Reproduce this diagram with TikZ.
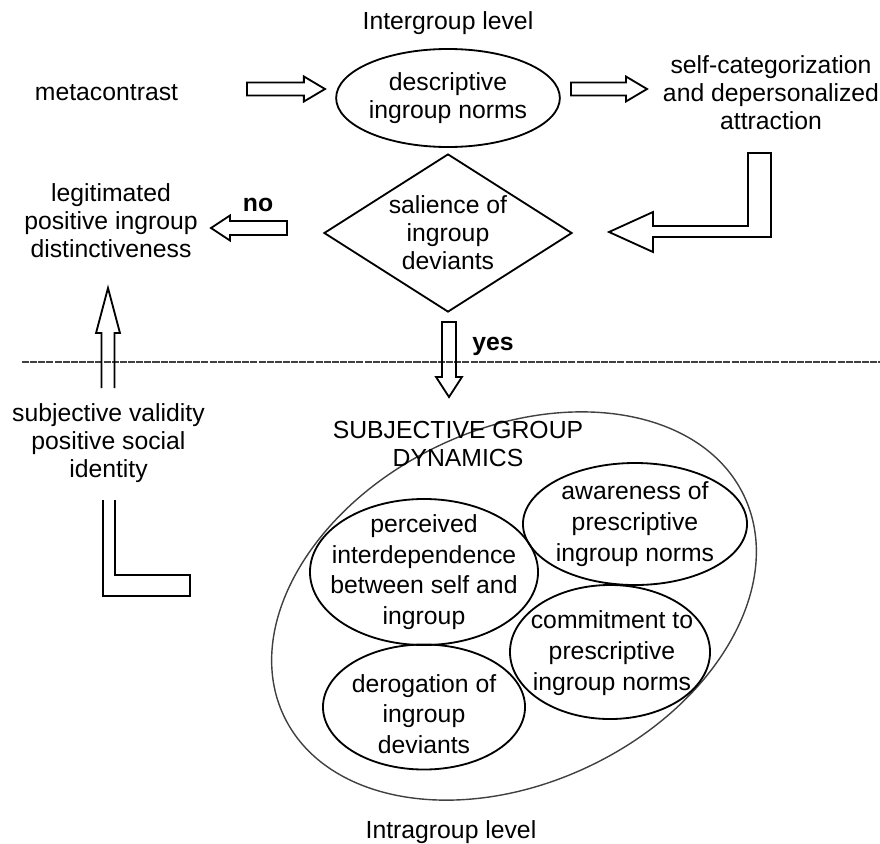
\documentclass[tikz,border=0pt]{standalone}
\usepackage{fontspec}
\setmainfont{Liberation Sans}
\usetikzlibrary{shapes.geometric,calc}

\tikzset{
  lbl/.style={font=\fontsize{17.6}{19.9}\selectfont, align=center, inner sep=0pt},
  bubtext/.style={font=\fontsize{17.6}{21.8}\selectfont, align=center, inner sep=0pt},
  bubble/.style={draw, ellipse, line width=1.3pt, inner sep=0pt},
  blockline/.style={draw, line width=1.3pt},
  divider/.style={line width=0.9pt, black!75, dash pattern=on 5pt off 0.8pt},
  % hollow block arrow: shaft half width, head half width, head length
  hollow/.style n args={3}{to path={
    ($(\tikztostart)!#1!90:(\tikztotarget)$)
    -- ($(\tikztotarget)!#3!(\tikztostart)!#1!90:(\tikztotarget)$)
    -- ($(\tikztotarget)!#3!(\tikztostart)!#2!90:(\tikztotarget)$)
    -- (\tikztotarget)
    -- ($(\tikztotarget)!#3!(\tikztostart)!#2!-90:(\tikztotarget)$)
    -- ($(\tikztotarget)!#3!(\tikztostart)!#1!-90:(\tikztotarget)$)
    -- ($(\tikztostart)!#1!-90:(\tikztotarget)$)}}
}

\begin{document}
\begin{tikzpicture}[x=0.025cm, y=-0.025cm]
  \useasboundingbox (0,0) rectangle (880,843);

  % intergroup level
  \node[lbl, anchor=base] (inter) at (448,29) {Intergroup level};
  \node[lbl, anchor=base] (meta) at (106.5,100) {metacontrast};
  \node[bubble, lbl, minimum width=5.5cm, minimum height=2.45cm] (desc) at (448,98)
    {descriptive\\ingroup norms};
  \node[lbl] (selfcat) at (771,93) {self-categorization\\and depersonalized\\attraction};
  \node[draw, diamond, aspect=1.57, line width=1.3pt, lbl,
        minimum width=6.2cm, minimum height=3.95cm] (sal) at (448,233)
    {salience of\\ingroup\\deviants};
  \node[lbl] (legit) at (111,221) {legitimated\\positive ingroup\\distinctiveness};
  \node[lbl, anchor=base, font=\fontsize{17.6}{19.9}\selectfont\bfseries] (no) at (258,211) {no};
  \node[lbl, anchor=base, font=\fontsize{17.6}{19.9}\selectfont\bfseries] (yes) at (493,350) {yes};

  % border between the levels
  \coordinate (divL) at (22,362);
  \coordinate (divR) at (880,362);
  \draw[divider] (divL) -- (divR);

  % intragroup level
  \node[draw, ellipse, rotate=25.7, line width=1pt, black!75, inner sep=0pt,
        minimum width=12.75cm, minimum height=8.85cm] (dyn) at (514,606) {};
  \node[lbl] (dyntxt) at (458,444) {SUBJECTIVE GROUP\\DYNAMICS};
  \node[bubble, minimum width=5.7cm, minimum height=3.65cm] (perc) at (424,572) {};
  \node[bubtext] (perctxt) at (424,572) {perceived\\interdependence\\between self and\\ingroup};
  \node[bubble, minimum width=5.6cm, minimum height=3.05cm] (aware) at (635,524) {};
  \node[bubtext] (awaretxt) at (635,524) {awareness of\\prescriptive\\ingroup norms};
  \node[bubble, minimum width=5cm, minimum height=3.35cm] (commit) at (610,652) {};
  \node[bubtext] (committxt) at (612,653) {commitment to\\prescriptive\\ingroup norms};
  \node[bubble, minimum width=5.05cm, minimum height=3.125cm] (derog) at (424,707) {};
  \node[bubtext] (derogtxt) at (424,714) {derogation of\\ingroup\\deviants};
  \node[lbl] (subj) at (108.5,443.5) {subjective validity\\positive social\\identity};
  \node[lbl, anchor=base] (intra) at (451,838) {Intragroup level};

  % arrow ends
  \coordinate (metaR) at (247,89);
  \coordinate (descL) at (325,89);
  \coordinate (descR) at (571,89);
  \coordinate (catL) at (647,89);
  \coordinate (noS) at (287,228);
  \coordinate (noT) at (211,228);
  \coordinate (yesS) at (449,322);
  \coordinate (yesT) at (449,397);
  \coordinate (upS) at (108,388);
  \coordinate (upT) at (108,288);
  \coordinate (bend) at (771,237);
  \coordinate (ret) at (103,500);

  % block arrows
  \draw[blockline] (metaR) to[hollow={4.6pt}{8.9pt}{15pt}] (descL) -- cycle;
  \draw[blockline] (descR) to[hollow={4.6pt}{8.9pt}{15pt}] (catL) -- cycle;
  \draw[blockline] (noS) to[hollow={5pt}{8.9pt}{13.5pt}] (noT) -- cycle;
  \draw[blockline] (yesS) to[hollow={5pt}{9.2pt}{14.2pt}] (yesT) -- cycle;
  \draw[blockline] (upS) to[hollow={4.6pt}{8.5pt}{32pt}] (upT);
  % bent arrow back to the diamond
  \draw[blockline] (bend) -- ++(0,-84) -- ++(-23,0) -- ++(0,73) -- ++(-95,0)
    -- ++(0,-14) -- ++(-44,20) -- ++(44,20) -- ++(0,-15) -- cycle;
  % bent tail under subjective validity
  \draw[blockline] (ret) -- ++(0,96) -- ++(87,0) -- ++(0,-21) -- ++(-75,0) -- ++(0,-75);
\end{tikzpicture}
\end{document}
